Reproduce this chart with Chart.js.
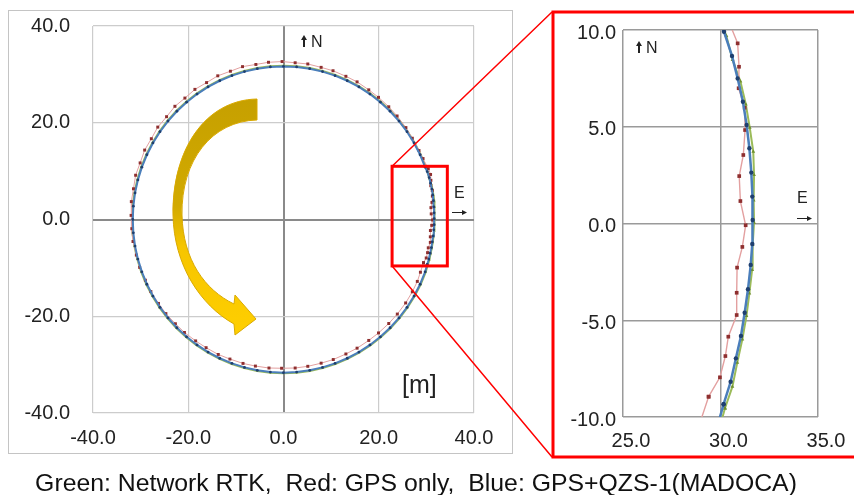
<!DOCTYPE html>
<html>
<head>
<meta charset="utf-8">
<script src="https://cdn.jsdelivr.net/npm/chart.js@4.4.0/dist/chart.umd.min.js"></script>
<style>
  body { margin: 0; background: #fff; width: 854px; height: 495px; overflow: hidden; position: relative; }
  canvas { position: absolute; }
  #c1 { left: 8px; top: 10px; }
  #c2 { left: 555px; top: 14px; }
  #ov { left: 0; top: 0; pointer-events: none; }
</style>
</head>
<body>
<canvas id="c1" width="504" height="443"></canvas>
<canvas id="c2" width="299" height="441"></canvas>
<canvas id="ov" width="854" height="495"></canvas>
<script>
// Tick labels
const mainTicks = [-40, -20, 0, 20, 40];
const zoomTicksE = [25, 30, 35];
const zoomTicksN = [-10, -5, 0, 5, 10];

// Blue: GPS+QZS-1 (MADOCA), East / North [m]
const blueE = [30.16, 30.52, 30.79, 31.05, 31.24, 31.41, 31.55, 31.63, 31.65, 31.63, 31.58, 31.48, 31.34, 31.15, 30.88, 30.59, 30.18,
  29.74, 28.68, 27.41, 25.93, 24.25, 22.38, 20.34, 18.15, 15.83, 13.38, 10.82, 8.19, 5.50, 2.76, 0.00,
  -2.76, -5.50, -8.19, -10.82, -13.38, -15.83, -18.15, -20.34, -22.38, -24.25, -25.93, -27.41, -28.68, -29.74, -30.57, -31.17, -31.53, -31.65,
  -31.53, -31.17, -30.57, -29.74, -28.68, -27.41, -25.93, -24.25, -22.38, -20.34, -18.15, -15.83, -13.38, -10.82, -8.19, -5.50, -2.76, 0.00,
  2.76, 5.50, 8.19, 10.82, 13.38, 15.83, 18.15, 20.34, 22.38, 24.25, 25.93, 27.41, 28.68, 29.74, 30.16];
const blueN = [-9.34, -8.18, -6.97, -5.81, -4.61, -3.40, -2.14, -1.06, 0.18, 1.39, 2.63, 3.89, 5.09, 6.29, 7.50, 8.66, 9.91,
  10.82, 13.38, 15.83, 18.15, 20.34, 22.38, 24.25, 25.93, 27.41, 28.68, 29.74, 30.57, 31.17, 31.53, 31.65,
  31.53, 31.17, 30.57, 29.74, 28.68, 27.41, 25.93, 24.25, 22.38, 20.34, 18.15, 15.83, 13.38, 10.82, 8.19, 5.50, 2.76, 0.00,
  -2.76, -5.50, -8.19, -10.82, -13.38, -15.83, -18.15, -20.34, -22.38, -24.25, -25.93, -27.41, -28.68, -29.74, -30.57, -31.17, -31.53, -31.68,
  -31.53, -31.17, -30.57, -29.74, -28.68, -27.41, -25.93, -24.25, -22.38, -20.34, -18.15, -15.83, -13.38, -10.82, -9.34];

// Red: GPS only
const redE = [29.39, 29.97, 30.25, 30.40, 30.83, 30.83, 30.85, 31.12, 31.29, 31.02, 30.96, 31.17, 31.26, 31.24, 30.93, 30.95, 30.88,
  30.40, 29.30, 28.45, 27.05, 25.70, 23.85, 22.10, 19.95, 17.90, 15.45, 13.10, 10.40, 7.90, 5.10, 2.45, -0.30,
  -3.15, -5.80, -8.60, -11.15, -13.80, -16.15, -18.60, -20.70, -22.80, -24.55, -26.40, -27.75, -29.15, -30.10, -31.05, -31.50, -31.95, -32.00,
  -31.85, -31.60, -30.90, -30.20, -29.00, -27.85, -26.25, -24.70, -22.70, -20.80, -18.45, -16.25, -13.70, -11.25, -8.50, -5.90, -3.05, -0.40,
  2.45, 5.10, 7.90, 10.45, 13.10, 15.45, 17.90, 19.95, 22.10, 23.90, 25.65, 27.05, 28.10, 28.75, 29.39];
const redN = [-8.95, -7.95, -6.85, -5.85, -4.73, -3.58, -2.28, -1.21, -0.09, 1.16, 2.45, 3.54, 4.83, 5.98, 6.99, 8.10, 9.31,
  10.50, 12.60, 14.25, 16.80, 19.00, 21.40, 23.30, 25.25, 26.80, 28.45, 29.60, 30.75, 31.45, 32.15, 32.40, 32.65,
  32.50, 32.05, 31.60, 30.65, 29.70, 28.30, 26.90, 25.10, 23.40, 21.25, 19.10, 16.70, 14.35, 11.70, 9.15, 6.35, 3.70, 0.85,
  -1.90, -4.55, -7.35, -9.90, -12.55, -14.90, -17.35, -19.45, -21.55, -23.35, -25.10, -26.50, -27.90, -28.85, -29.75, -30.30, -30.70, -30.75,
  -30.70, -30.35, -29.70, -28.95, -27.80, -26.60, -25.00, -23.45, -21.50, -19.55, -17.25, -14.95, -12.80, -10.90, -8.95];

// Green: Network RTK
const greenE = [30.23, 30.61, 30.86, 31.12, 31.33, 31.48, 31.62, 31.65, 31.72, 31.70, 31.72, 31.68, 31.50, 31.30, 31.02, 30.62, 30.30,
  29.86, 28.80, 27.52, 26.03, 24.34, 22.47, 20.43, 18.23, 15.89, 13.43, 10.87, 8.22, 5.52, 2.77, 0.00,
  -2.77, -5.52, -8.22, -10.87, -13.43, -15.89, -18.23, -20.43, -22.47, -24.34, -26.03, -27.52, -28.80, -29.86, -30.70, -31.30, -31.66, -31.78,
  -31.66, -31.30, -30.70, -29.86, -28.80, -27.52, -26.03, -24.34, -22.47, -20.43, -18.23, -15.89, -13.43, -10.87, -8.22, -5.52, -2.77, 0.00,
  2.77, 5.52, 8.22, 10.87, 13.43, 15.89, 18.23, 20.43, 22.47, 24.34, 26.03, 27.52, 28.80, 29.86, 30.23];
const greenN = [-9.55, -8.43, -7.19, -5.99, -4.78, -3.61, -2.40, -1.11, 0.05, 1.20, 2.51, 3.71, 4.95, 6.15, 7.35, 8.45, 9.70,
  10.87, 13.43, 15.89, 18.23, 20.43, 22.47, 24.34, 26.03, 27.52, 28.80, 29.86, 30.70, 31.30, 31.66, 31.78,
  31.66, 31.30, 30.70, 29.86, 28.80, 27.52, 26.03, 24.34, 22.47, 20.43, 18.23, 15.89, 13.43, 10.87, 8.22, 5.52, 2.77, 0.00,
  -2.77, -5.52, -8.22, -10.87, -13.43, -15.89, -18.23, -20.43, -22.47, -24.34, -26.03, -27.52, -28.80, -29.86, -30.70, -31.30, -31.66, -31.78,
  -31.66, -31.30, -30.70, -29.86, -28.80, -27.52, -26.03, -24.34, -22.47, -20.43, -18.23, -15.89, -13.43, -10.87, -9.55];

const FONT = '"Liberation Sans", Arial, sans-serif';
const pts = (E, N) => E.map((e, i) => ({ x: e, y: N[i] }));

function axis(ticks, min, max, o) {
  return {
    type: 'linear', min: min, max: max,
    afterBuildTicks: s => { s.ticks = ticks.map(v => ({ value: v })); },
    afterFit: s => {
      // fixed axis box, no extra edge padding from the label padding
      if (o.w) { s.width = o.w; s.paddingTop = 0; s.paddingBottom = 0; }
      if (o.h) { s.height = o.h; s.paddingLeft = 0; s.paddingRight = 0; }
    },
    border: { display: false },
    grid: {
      drawTicks: false,
      color: c => (o.zeroColor && c.tick && c.tick.value === 0) ? o.zeroColor : o.gridColor,
      lineWidth: c => (o.zeroColor && c.tick && c.tick.value === 0) ? 2 : o.gridWidth
    },
    ticks: {
      autoSkip: false, maxRotation: 0, padding: o.pad, labelOffset: o.off || 0,
      color: '#222', font: { size: 20, family: FONT },
      callback: v => Number(v).toFixed(1)
    }
  };
}

function sets(big) {
  return [
    { label: 'Blue', data: pts(blueE, blueN), showLine: true, borderColor: '#4A7EBB', borderWidth: big ? 2.5 : 2,
      pointStyle: 'circle', pointRadius: big ? 2.2 : 1.4, pointBackgroundColor: '#1F3F6F', pointBorderWidth: 0 },
    { label: 'Red', data: pts(redE, redN), showLine: true, borderColor: '#E3A0A0', borderWidth: big ? 1.4 : 1,
      pointStyle: 'rect', pointRadius: big ? 2.6 : 2.1, pointBackgroundColor: '#8E2F2F', pointBorderWidth: 0 },
    { label: 'Green', data: pts(greenE, greenN), showLine: true, borderColor: '#9BBB59', borderWidth: 2,
      pointStyle: 'triangle', pointRadius: big ? 2.2 : 1.4, pointBackgroundColor: '#6E8F2E', pointBorderWidth: 0 }
  ];
}

const common = {
  responsive: false, animation: false,
  plugins: { legend: { display: false }, tooltip: { enabled: false } },
  elements: { line: { tension: 0 } }
};

const chart1 = new Chart(document.getElementById('c1'), {
  type: 'scatter',
  data: { datasets: sets(false) },
  options: Object.assign({}, common, {
    layout: { padding: { left: 0, right: 38, top: 16, bottom: 0 } },
    scales: {
      x: axis(mainTicks, -40, 40, { h: 40, pad: 13, gridColor: '#cccccc', gridWidth: 1.2, zeroColor: '#8a8a8a' }),
      y: axis(mainTicks, -40, 40, { w: 85, pad: 23, gridColor: '#cccccc', gridWidth: 1.2, zeroColor: '#8a8a8a' })
    }
  })
});

const chart2 = new Chart(document.getElementById('c2'), {
  type: 'scatter',
  data: { datasets: sets(true) },
  options: Object.assign({}, common, {
    layout: { padding: { left: 0, right: 36, top: 16, bottom: 0 } },
    scales: {
      x: axis(zoomTicksE, 25, 35, { h: 38, pad: 12, off: 8, gridColor: '#9a9a9a', gridWidth: 1.5 }),
      y: axis(zoomTicksN, -10, 10, { w: 68, pad: 7, off: 3, gridColor: '#9a9a9a', gridWidth: 1.5 })
    }
  })
});

// Overlay: frames, zoom box, arrow, labels, caption
const ov = document.getElementById('ov').getContext('2d');
ov.strokeStyle = '#c4c4c4';
ov.lineWidth = 1;
ov.strokeRect(8.5, 10.5, 504, 443);

const sx = chart1.scales.x, sy = chart1.scales.y;
const bx1 = 8 + sx.getPixelForValue(22.8), bx2 = 8 + sx.getPixelForValue(34.4);
const by1 = 10 + sy.getPixelForValue(11.0), by2 = 10 + sy.getPixelForValue(-9.6);

ov.strokeStyle = '#ff0000';
ov.lineWidth = 1.5;
ov.beginPath();
ov.moveTo(bx1, by1); ov.lineTo(552, 12);
ov.moveTo(bx1, by2); ov.lineTo(552, 457);
ov.stroke();
ov.lineWidth = 3;
ov.strokeRect(bx1, by1, bx2 - bx1, by2 - by1);
ov.beginPath();
ov.moveTo(856, 12); ov.lineTo(553, 12); ov.lineTo(553, 457); ov.lineTo(856, 457);
ov.stroke();

// curved arrow
const g = ov.createLinearGradient(0, 99, 0, 337);
g.addColorStop(0, '#C6A000');
g.addColorStop(0.45, '#D2AA00');
g.addColorStop(0.62, '#F6C500');
g.addColorStop(1, '#FFCF00');
ov.fillStyle = g;
ov.strokeStyle = '#D9A900';
ov.lineWidth = 1;
ov.beginPath();
ov.moveTo(257, 99);
ov.bezierCurveTo(205, 100, 172, 150, 173, 215);
ov.bezierCurveTo(174, 265, 200, 305, 234, 324);
ov.lineTo(235, 335);
ov.lineTo(256, 319);
ov.lineTo(235, 295);
ov.lineTo(234, 304);
ov.bezierCurveTo(205, 290, 183, 260, 182, 215);
ov.bezierCurveTo(181, 160, 212, 121, 257, 120);
ov.closePath();
ov.fill();
ov.stroke();

// direction labels
function upArrow(x, y1, y2) {
  ov.strokeStyle = '#222'; ov.fillStyle = '#222'; ov.lineWidth = 2;
  ov.beginPath(); ov.moveTo(x, y2); ov.lineTo(x, y1 + 4); ov.stroke();
  ov.beginPath(); ov.moveTo(x, y1); ov.lineTo(x - 3, y1 + 5); ov.lineTo(x + 3, y1 + 5); ov.closePath(); ov.fill();
}
function rightArrow(x1, x2, y) {
  ov.strokeStyle = '#222'; ov.fillStyle = '#222'; ov.lineWidth = 1;
  ov.beginPath(); ov.moveTo(x1, y + 0.5); ov.lineTo(x2 - 3, y + 0.5); ov.stroke();
  ov.beginPath(); ov.moveTo(x2, y + 0.5); ov.lineTo(x2 - 5, y - 2); ov.lineTo(x2 - 5, y + 3); ov.closePath(); ov.fill();
}
upArrow(304, 35, 47);
upArrow(639, 41, 53);
rightArrow(452, 467, 212);
rightArrow(797, 812, 218);

ov.fillStyle = '#222';
ov.textBaseline = 'alphabetic';
ov.textAlign = 'left';
ov.font = '16px ' + FONT;
ov.fillText('N', 311, 47);
ov.fillText('N', 646, 53);
ov.fillText('E', 454, 198);
ov.fillText('E', 797, 203);
ov.font = '25px ' + FONT;
ov.fillText('[m]', 402, 393);

// caption
const cap = 'Green: Network RTK,  Red: GPS only,  Blue: GPS+QZS-1(MADOCA)';
ov.font = '20px ' + FONT;
const fs = 20 * 762 / ov.measureText(cap).width;
ov.font = fs.toFixed(2) + 'px ' + FONT;
ov.fillStyle = '#111';
ov.textAlign = 'center';
ov.fillText(cap, 416, 491);
</script>
</body>
</html>
